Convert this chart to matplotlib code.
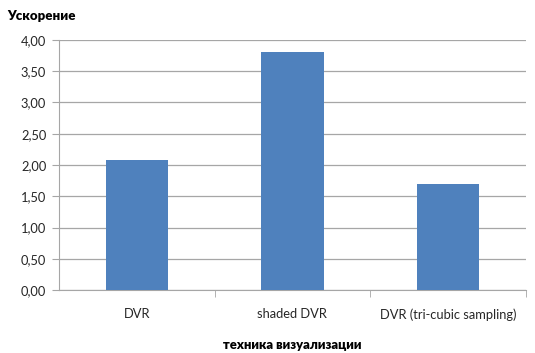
import matplotlib.pyplot as plt
from matplotlib.ticker import FuncFormatter, FixedLocator

# данные
categories = ['DVR', 'shaded DVR', 'DVR (tri-cubic sampling)']
speedup = [2.08, 3.80, 1.70]
y_ticks = [0.0, 0.5, 1.0, 1.5, 2.0, 2.5, 3.0, 3.5, 4.0]

plt.rcParams['font.family'] = ['Lato', 'DejaVu Sans']

fig = plt.figure(figsize=(5.35, 3.53), dpi=100)
ax = fig.add_axes([0.110, 0.178, 0.873, 0.709])

x = list(range(len(categories)))
ax.bar(x, speedup, width=0.4, color='#4F81BD', zorder=3)

ax.set_xlim(-0.5, len(categories) - 0.5)
ax.set_ylim(0, 4.0)
ax.set_yticks(y_ticks)
ax.yaxis.set_major_formatter(FuncFormatter(lambda v, p: f'{v:.2f}'.replace('.', ',')))
ax.grid(axis='y', color='#A6A6A6', linewidth=0.9, zorder=0)

ax.set_xticks(x)
ax.set_xticklabels(categories)
ax.xaxis.set_minor_locator(FixedLocator([0.5, 1.5, 2.5]))
ax.tick_params(axis='x', which='major', length=0, pad=13, labelsize=9.3, labelcolor='#262626')
ax.tick_params(axis='x', which='minor', length=5, color='#A6A6A6')
ax.tick_params(axis='y', length=5, color='#A6A6A6', labelsize=9.3, labelcolor='#262626', pad=4)

for s in ['top', 'right']:
    ax.spines[s].set_visible(False)
ax.spines['left'].set_color('#A6A6A6')
ax.spines['bottom'].set_color('#A6A6A6')

ax.set_xlabel('техника визуализации', fontweight='heavy', fontsize=9.4, labelpad=13)
fig.text(0.014, 0.955, 'Ускорение', fontweight='heavy', fontsize=9.5, ha='left', va='center')

fig.savefig('out.png', dpi=100)
